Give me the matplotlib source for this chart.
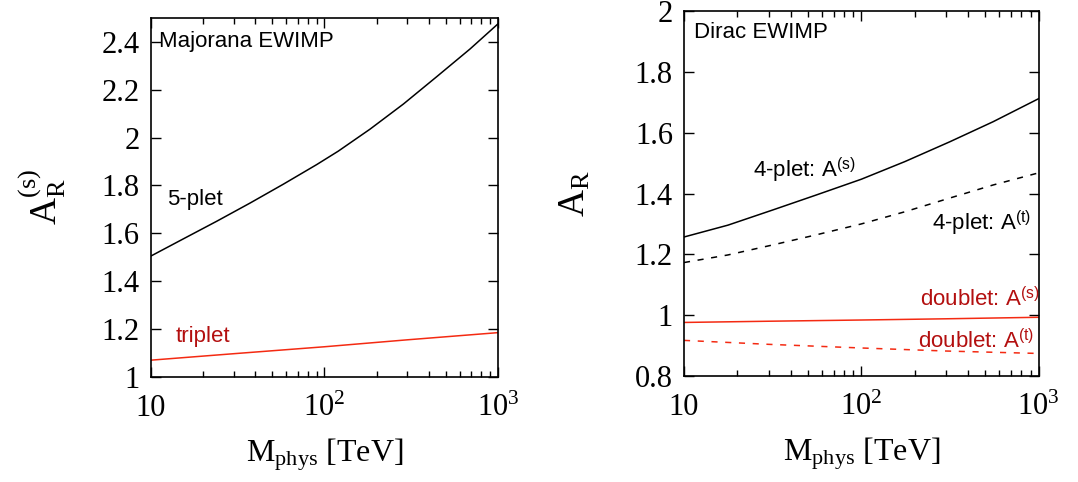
import numpy as np
import matplotlib.pyplot as plt

# Data (M_phys in TeV)
# Majorana EWIMP
m_5plet = [10, 15.4, 23.9, 37.2, 57.9, 90.2, 120, 183, 285, 443, 690, 1000]
maj_5plet = [1.505, 1.577, 1.650, 1.726, 1.805, 1.887, 1.943, 2.035, 2.140,
             2.254, 2.370, 2.475]
m_triplet = [10, 30, 100, 300, 1000]
maj_triplet = [1.070, 1.097, 1.126, 1.155, 1.185]

# Dirac EWIMP
m_4plet = [10, 17.7, 31.7, 55.6, 100, 176, 315, 553, 1000]
dir_4plet_s = [1.257, 1.296, 1.346, 1.395, 1.447, 1.505, 1.570, 1.636, 1.712]
dir_4plet_t = [1.173, 1.198, 1.231, 1.264, 1.300, 1.340, 1.385, 1.428, 1.468]
m_doublet = [10, 30, 100, 300, 1000]
dir_doublet_s = [0.976, 0.980, 0.984, 0.988, 0.993]
dir_doublet_t = [0.917, 0.904, 0.892, 0.882, 0.874]

plt.rcParams['font.family'] = 'Liberation Serif'
plt.rcParams['mathtext.fontset'] = 'custom'
plt.rcParams['mathtext.rm'] = 'Liberation Serif'
plt.rcParams['mathtext.it'] = 'Liberation Serif:italic'
plt.rcParams['mathtext.sf'] = 'Liberation Sans'

RED = '#f42a12'
TXT_RED = '#b30f0f'
sans = 'Liberation Sans'
fs_txt = 16

fig = plt.figure(figsize=(10.78, 4.82), dpi=100)
ax1 = fig.add_axes([0.140, 0.218, 0.322, 0.745])
ax2 = fig.add_axes([0.6345, 0.220, 0.329, 0.757])

dash = (0, (4, 5))

# Left panel
ax1.plot(m_5plet, maj_5plet, color='black', lw=1.1)
ax1.plot(m_triplet, maj_triplet, color=RED, lw=1.1)
ax1.set_ylim(1, 2.5)
ax1.set_yticks([1, 1.2, 1.4, 1.6, 1.8, 2, 2.2, 2.4])
ax1.set_yticklabels(['1', '1.2', '1.4', '1.6', '1.8', '2', '2.2', '2.4'])
ax1.set_ylabel(r'$\mathrm{A_R^{(s)}}$', fontsize=27, labelpad=24)
ax1.text(0.022, 0.933, 'Majorana EWIMP', transform=ax1.transAxes, family=sans,
         fontsize=fs_txt, va='center')
ax1.text(12.4, 1.74, '5-plet', family=sans, fontsize=fs_txt, va='center')
ax1.text(13.9, 1.167, 'triplet', family=sans, fontsize=fs_txt, va='center', color=TXT_RED)

# Right panel
ax2.plot(m_4plet, dir_4plet_s, color='black', lw=1.1)
ax2.plot(m_4plet, dir_4plet_t, color='black', lw=1.1, linestyle=dash)
ax2.plot(m_doublet, dir_doublet_s, color=RED, lw=1.1)
ax2.plot(m_doublet, dir_doublet_t, color=RED, lw=1.1, linestyle=dash)
ax2.set_ylim(0.8, 2)
ax2.set_yticks([0.8, 1, 1.2, 1.4, 1.6, 1.8, 2])
ax2.set_yticklabels(['0.8', '1', '1.2', '1.4', '1.6', '1.8', '2'])
ax2.set_ylabel(r'$\mathrm{A_R}$', fontsize=27, labelpad=30)
ax2.text(0.028, 0.94, 'Dirac EWIMP', transform=ax2.transAxes, family=sans,
         fontsize=fs_txt, va='center')
ax2.text(24.5, 1.48, r'4-plet: A$^{\mathsf{(s)}}$', family=sans, fontsize=fs_txt, va='center')
ax2.text(250, 1.305, r'4-plet: A$^{\mathsf{(t)}}$', family=sans, fontsize=fs_txt, va='center')
ax2.text(214, 1.055, r'doublet: A$^{\mathsf{(s)}}$', family=sans, fontsize=fs_txt,
         va='center', color=TXT_RED)
ax2.text(208, 0.918, r'doublet: A$^{\mathsf{(t)}}$', family=sans, fontsize=fs_txt,
         va='center', color=TXT_RED)

for ax in (ax1, ax2):
    ax.set_xscale('log')
    ax.set_xlim(10, 1000)
    ax.set_xticks([10, 100, 1000])
    ax.set_xticklabels(['10', r'$\mathrm{10^2}$', r'$\mathrm{10^3}$'])
    ax.set_xlabel(r'$\mathrm{M_{phys}}$ [TeV]', fontsize=23, labelpad=10)
    ax.tick_params(which='both', direction='in', top=True, right=True,
                   labelsize=22, width=1.0)
    ax.tick_params(which='major', length=7)
    ax.tick_params(axis='x', which='major', pad=12)
    ax.tick_params(axis='y', which='major', pad=8)
    ax.tick_params(which='minor', length=4)
    ax.tick_params(axis='y', which='minor', left=False, right=False)
    for s in ax.spines.values():
        s.set_linewidth(1.2)

plt.savefig('out.png', dpi=100)
